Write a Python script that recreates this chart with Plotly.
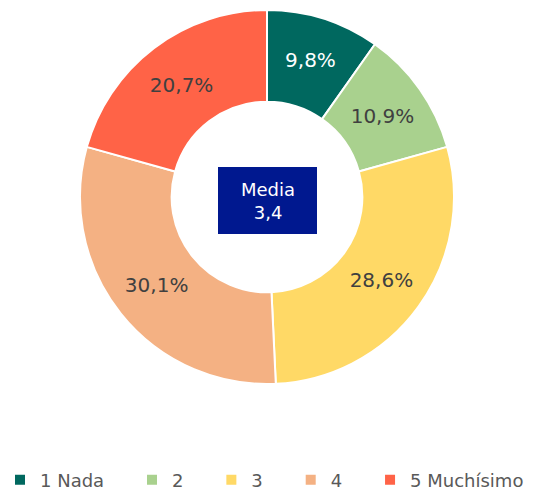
import plotly.graph_objects as go

categories = ["1 Nada", "2", "3", "4", "5 Muchísimo"]
values = [9.8, 10.9, 28.6, 30.1, 20.7]
value_labels = ["9,8%", "10,9%", "28,6%", "30,1%", "20,7%"]
colors = ["#00685F", "#A9D18E", "#FFD966", "#F4B183", "#FF6347"]
text_colors = ["#FFFFFF", "#404040", "#404040", "#404040", "#404040"]
center_title = "Media"
center_value = "3,4"

W, H = 541, 491
FONT = "DejaVu Sans"

# pad legend names with non-breaking spaces to mimic the spread-out legend
pads = [4, 4, 4, 4, 0]
legend_names = [c + "\u00a0" * p for c, p in zip(categories, pads)]

fig = go.Figure()
fig.add_trace(go.Pie(
    labels=legend_names,
    values=values,
    text=value_labels,
    texttemplate="%{text}",
    textinfo="text",
    textposition="inside",
    insidetextorientation="horizontal",
    hole=0.51,
    sort=False,
    direction="clockwise",
    rotation=0,
    marker=dict(colors=colors, line=dict(color="#FFFFFF", width=2)),
    insidetextfont=dict(family=FONT, size=20, color=text_colors),
    domain=dict(x=[80 / W, 454 / W], y=[1 - 384 / H, 1 - 10 / H]),
    hoverinfo="label+text",
))

fig.add_shape(
    type="rect", xref="paper", yref="paper",
    x0=218 / W, x1=317 / W, y0=1 - 234 / H, y1=1 - 167 / H,
    fillcolor="#00188F", line=dict(width=0), layer="above",
)
fig.add_annotation(
    xref="paper", yref="paper", x=267.5 / W, y=1 - 200.5 / H,
    text=f"{center_title}<br>{center_value}", showarrow=False,
    font=dict(family=FONT, size=18, color="#FFFFFF"),
    xanchor="center", yanchor="middle",
)

fig.update_layout(
    width=W, height=H,
    margin=dict(l=0, r=0, t=0, b=0, autoexpand=False),
    paper_bgcolor="#FFFFFF",
    plot_bgcolor="#FFFFFF",
    showlegend=True,
    legend=dict(
        orientation="h", x=0, xanchor="left", y=1 - 480 / H, yanchor="middle",
        font=dict(family=FONT, size=18, color="#595959"),
        bgcolor="rgba(0,0,0,0)",
    ),
)

fig.write_html(
    "out.html",
    config={"displayModeBar": False},
    post_script="document.body.style.margin='0';document.body.style.padding='0';",
)
